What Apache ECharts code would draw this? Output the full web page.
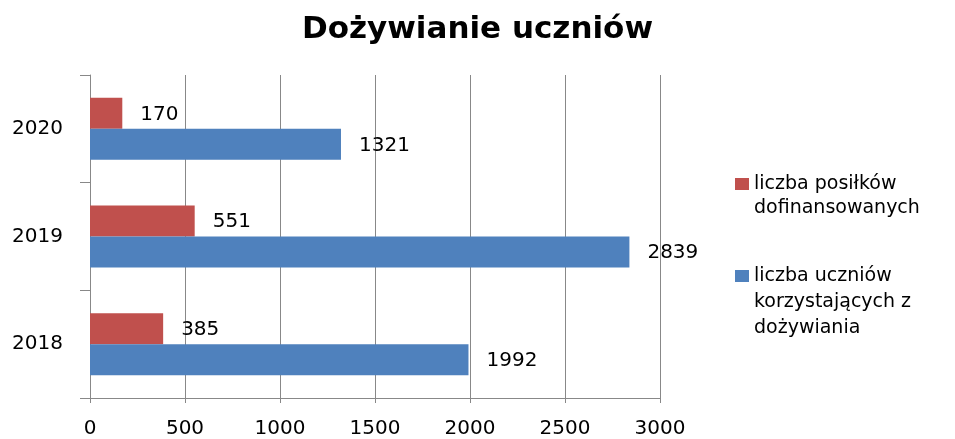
<!DOCTYPE html>
<html>
<head>
<meta charset="utf-8">
<style>
  html, body { margin: 0; padding: 0; background: #fff; }
  #chart { width: 955px; height: 439px; }
</style>
<script src="https://cdn.jsdelivr.net/npm/echarts@6/dist/echarts.min.js"></script>
</head>
<body>
<div id="chart"></div>
<script>
const years = ['2018', '2019', '2020']
const posilki = [385, 551, 170]
const uczniowie = [1992, 2839, 1321]
const xTicks = [0, 500, 1000, 1500, 2000, 2500, 3000]

const nameRed = 'liczba posiłków\ndofinansowanych'
const nameBlue = 'liczba uczniów\nkorzystających z\ndożywiania'
const font = '"DejaVu Sans", "Noto Sans", sans-serif'
const gray = '#888'

const chart = echarts.init(document.getElementById('chart'))

// one legend per item; leading blank lines keep the marker on the first text line
function legendFor(name, top, pad, lh) {
  return {
    data: [name],
    left: 735,
    top: top,
    padding: 0,
    orient: 'vertical',
    itemWidth: 14,
    itemHeight: 12,
    icon: 'rect',
    formatter: n => pad + n,
    textStyle: { fontSize: 19, lineHeight: lh, color: '#000', fontFamily: font }
  }
}

const valueLabel = {
  show: true,
  position: 'right',
  distance: 18,
  offset: [0, 1],
  fontSize: 20,
  color: '#000',
  fontFamily: font
}

chart.setOption({
  animation: false,
  textStyle: { fontFamily: font },
  title: {
    text: 'Dożywianie uczniów',
    left: 'center',
    top: 9,
    textStyle: { fontSize: 31, fontWeight: 'bold', color: '#000', fontFamily: font }
  },
  legend: [
    legendFor(nameRed, 148, '\n', 24),
    legendFor(nameBlue, 211, '\n\n', 26)
  ],
  grid: {
    top: 75,
    left: 90,
    right: 295,
    bottom: 37,
    containLabel: false
  },
  xAxis: {
    type: 'value',
    min: xTicks[0],
    max: xTicks[xTicks.length - 1],
    interval: 500,
    axisLine: { show: true, lineStyle: { color: gray } },
    axisTick: { show: true, length: 5, lineStyle: { color: gray } },
    axisLabel: { fontSize: 20, color: '#000', margin: 21, fontFamily: font, formatter: v => String(v) },
    splitLine: { show: true, lineStyle: { color: gray, width: 1 } }
  },
  yAxis: {
    type: 'category',
    data: years,
    axisLine: { show: true, lineStyle: { color: gray } },
    axisTick: { show: true, length: 10, lineStyle: { color: gray } },
    axisLabel: { fontSize: 20, color: '#000', margin: 27, fontFamily: font },
    splitLine: { show: false }
  },
  series: [{
    name: nameRed,
    type: 'bar',
    data: posilki,
    barWidth: 31,
    barGap: '0%',
    itemStyle: { color: '#C0504D' },
    label: valueLabel
  }, {
    name: nameBlue,
    type: 'bar',
    data: uczniowie,
    barWidth: 31,
    barGap: '0%',
    itemStyle: { color: '#4F81BD' },
    label: valueLabel
  }]
})
</script>
</body>
</html>
